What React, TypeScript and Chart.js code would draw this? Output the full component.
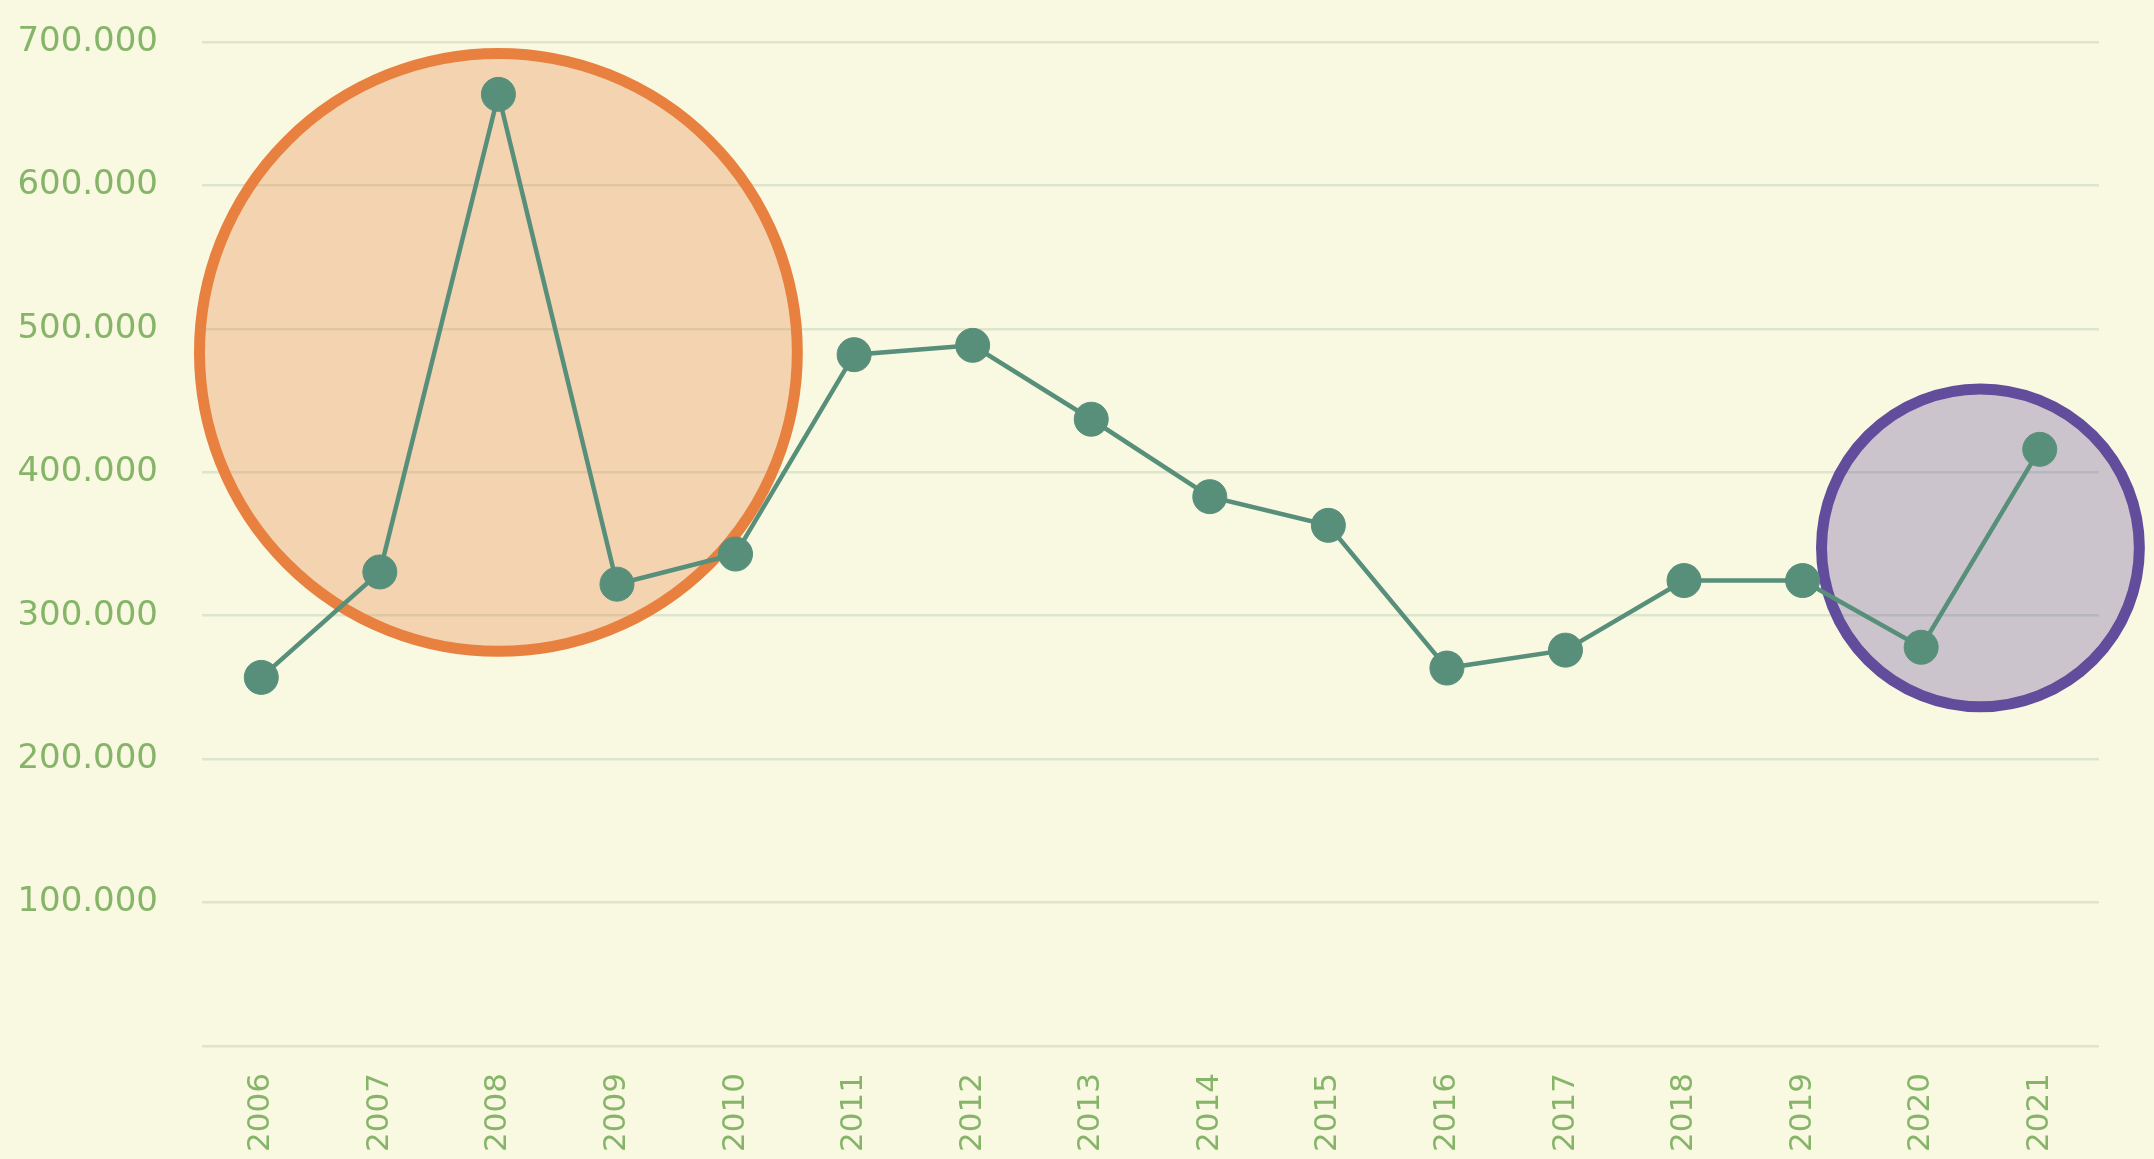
import React, { useEffect, useRef } from "react";
import { Chart, registerables } from "chart.js";

Chart.register(...registerables);

const years = ["2006","2007","2008","2009","2010","2011","2012","2013","2014","2015","2016","2017","2018","2019","2020","2021"];
const values = [257000, 330500, 663500, 322000, 343000, 482000, 488500, 437000, 383000, 363000, 263500, 276000, 324500, 324500, 278000, 416000];

// highlight circles: center (category index, value), radius in value units
const circleCenterIndex = [2, 14.5];
const circleCenterValue = [483600, 347300];
const circleRadiusValue = [208400, 110800];
const circleFill = ["rgba(233,128,64,0.3)", "rgba(96,76,154,0.3)"];
const circleStroke = ["#e8803f", "#614d9b"];

const BG = "#f9f8e1";
const LABEL = "#86b56a";

const circlesPlugin = {
  id: "circles",
  beforeDatasetsDraw(chart: any) {
    const { ctx, scales } = chart;
    const xs = scales.x, ys = scales.y;
    ctx.save();
    for (let i = 0; i < circleCenterIndex.length; i++) {
      const cx = xs.getPixelForValue(circleCenterIndex[i]);
      const cy = ys.getPixelForValue(circleCenterValue[i]);
      const r = ys.getPixelForValue(0) - ys.getPixelForValue(circleRadiusValue[i]);
      ctx.beginPath();
      ctx.arc(cx, cy, r, 0, Math.PI * 2);
      ctx.fillStyle = circleFill[i];
      ctx.fill();
      ctx.lineWidth = 11;
      ctx.strokeStyle = circleStroke[i];
      ctx.stroke();
    }
    ctx.restore();
  },
};

export default function App() {
  const ref = useRef<HTMLCanvasElement>(null);
  useEffect(() => {
    document.body.style.margin = "0";
    document.body.style.background = BG;
    const chart = new Chart(ref.current!, {
      type: "line",
      data: {
        labels: years,
        datasets: [
          {
            data: values,
            borderColor: "#578f7a",
            backgroundColor: "#578f7a",
            borderWidth: 4.5,
            pointRadius: 17,
            pointBorderWidth: 1,
            pointBorderColor: "#578f7a",
            pointBackgroundColor: "#578f7a",
            tension: 0,
          },
        ],
      },
      options: {
        animation: false,
        responsive: true,
        maintainAspectRatio: false,
        layout: { padding: { top: 42, right: 55, left: 0, bottom: 0 } },
        plugins: { legend: { display: false }, tooltip: { enabled: false } },
        scales: {
          x: {
            offset: true,
            grid: { display: false, drawTicks: false },
            border: { display: false },
            ticks: {
              color: LABEL,
              font: { family: "DejaVu Sans", size: 31 },
              minRotation: 90,
              maxRotation: 90,
              padding: 27,
            },
            afterFit(scale: any) { scale.height = 113; },
          },
          y: {
            min: 0,
            max: 700000,
            grid: { color: "#dde5cd", lineWidth: 2.5, drawTicks: true, tickLength: 44, tickColor: "rgba(0,0,0,0)" },
            border: { display: false },
            ticks: {
              stepSize: 100000,
              color: LABEL,
              font: { family: "DejaVu Sans", size: 34 },
              padding: 0,
              callback: (v: any) => (v === 0 ? "" : Number(v).toLocaleString("de-DE")),
            },
            afterFit(scale: any) { scale.width = 202; },
          },
        },
      },
      plugins: [circlesPlugin],
    });
    return () => chart.destroy();
  }, []);
  return (
    <div style={{ position: "fixed", left: 0, top: 0, width: "100vw", height: "100vh", background: BG }}>
      <canvas ref={ref} />
    </div>
  );
}
